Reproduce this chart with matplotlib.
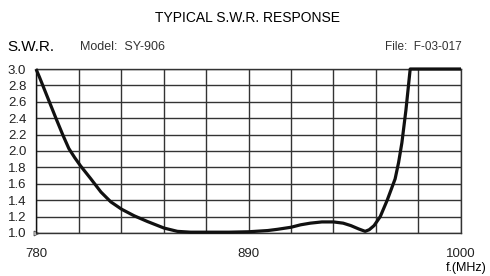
import numpy as np
import matplotlib.pyplot as plt

# frequency (MHz) and S.W.R.
freq = [780, 781.8, 783.5, 786.9, 790.3, 793.8, 797, 800, 803, 808.4, 813.6,
        818.7, 824.3, 830.8, 837.7, 846.3, 853.2, 860, 870, 880, 890, 900, 905,
        912, 917, 922, 928, 934, 939, 943, 947, 950.4, 952.5, 955, 958.2, 961.8,
        965.9, 967.7, 969.4, 971.5, 973.7, 987, 1000]
swr = [3.0, 2.9, 2.8, 2.6, 2.4, 2.2, 2.03, 1.92, 1.82, 1.66, 1.5,
       1.38, 1.29, 1.21, 1.14, 1.06, 1.02, 1.01, 1.01, 1.01, 1.015, 1.03, 1.045,
       1.07, 1.10, 1.12, 1.135, 1.135, 1.12, 1.09, 1.05, 1.02, 1.04, 1.09, 1.2, 1.40,
       1.66, 1.86, 2.1, 2.5, 3.0, 3.0, 3.0]

x_major = [780, 890, 1000]
x_grid = np.arange(780, 1001, 22)
y_ticks = np.round(np.arange(1.0, 3.01, 0.2), 1)

plt.rcParams['font.family'] = ['Liberation Sans', 'DejaVu Sans']

fig = plt.figure(figsize=(4.9, 2.76), dpi=100)
ax = fig.add_axes([0.0735, 0.1558, 0.8673, 0.5942])

ax.plot(freq, swr, color='#111111', lw=2.3, solid_capstyle='butt',
        solid_joinstyle='round', clip_on=False, zorder=3)

ax.set_xlim(780, 1000)
ax.set_ylim(1.0, 3.0)
ax.set_xticks(x_major)
ax.set_xticks(x_grid, minor=True)
ax.set_yticks(y_ticks)
ax.set_yticklabels([f"{v:.1f}" for v in y_ticks])
ax.grid(True, which='both', color='#333333', lw=1.0)
ax.tick_params(which='both', length=0, colors='#222222')
ax.tick_params(axis='x', pad=11, labelsize=9.5)
ax.tick_params(axis='y', pad=7, labelsize=9.5)
for s in ax.spines.values():
    s.set_color('#333333')
    s.set_linewidth(1.0)
ax.spines['left'].set_color('#111111')

# small arrow at the y origin
ax.plot([0], [0], marker='>', ms=3.5, mfc='white', mec='#555555', mew=0.7,
        transform=ax.transAxes, clip_on=False)

fig.text(0.506, 0.935, 'TYPICAL S.W.R. RESPONSE', ha='center', va='center', fontsize=10)
fig.text(0.016, 0.828, 'S.W.R.', ha='left', va='center', fontsize=11)
fig.text(0.163, 0.828, 'Model:  SY-906', ha='left', va='center', fontsize=9, color='#333333')
fig.text(0.943, 0.828, 'File:  F-03-017', ha='right', va='center', fontsize=8.5, color='#333333')
fig.text(0.993, 0.028, 'f.(MHz)', ha='right', va='center', fontsize=9)

fig.savefig('out.png', dpi=100)
